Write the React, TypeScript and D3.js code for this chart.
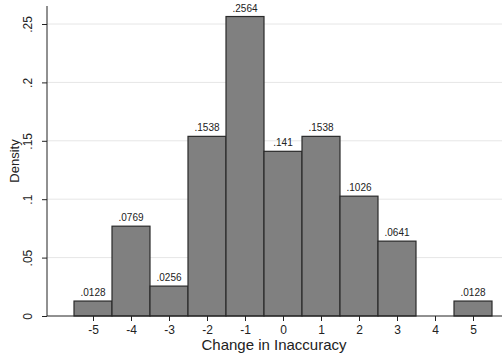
import React, { useEffect, useRef } from 'react';
import * as d3 from 'd3';

const bins = [-5, -4, -3, -2, -1, 0, 1, 2, 3, 4, 5];
const density = [0.0128, 0.0769, 0.0256, 0.1538, 0.2564, 0.141, 0.1538, 0.1026, 0.0641, 0, 0.0128];
const barLabels = ['.0128', '.0769', '.0256', '.1538', '.2564', '.141', '.1538', '.1026', '.0641', '', '.0128'];
const yTicks = [0, 0.05, 0.1, 0.15, 0.2, 0.25];
const yTickLabels = ['0', '.05', '.1', '.15', '.2', '.25'];

const W = 502;
const H = 356;
const font = '"Liberation Sans", Arial, sans-serif';

export default function App() {
  const ref = useRef<SVGSVGElement>(null);

  useEffect(() => {
    const svg = d3.select(ref.current);
    svg.selectAll('*').remove();

    const x = d3.scaleLinear().domain([-5.5, 5.5]).range([74, 492]);
    const y = d3.scaleLinear().domain([0, 0.25]).range([316, 24]);
    const axisX = 47;

    // gridlines
    svg.append('g')
      .selectAll('line')
      .data(yTicks.slice(1))
      .join('line')
      .attr('x1', axisX)
      .attr('x2', W)
      .attr('y1', d => y(d))
      .attr('y2', d => y(d))
      .attr('stroke', '#e6e6e6')
      .attr('stroke-width', 1);

    // bars
    const data = bins.map((b, i) => ({ b, v: density[i], label: barLabels[i] }));
    svg.append('g')
      .selectAll('rect')
      .data(data.filter(d => d.v > 0))
      .join('rect')
      .attr('x', d => x(d.b - 0.5))
      .attr('width', d => x(d.b + 0.5) - x(d.b - 0.5))
      .attr('y', d => y(d.v))
      .attr('height', d => y(0) - y(d.v))
      .attr('fill', '#808080')
      .attr('stroke', '#2a2a2a')
      .attr('stroke-width', 1.2);

    // bar labels
    svg.append('g')
      .selectAll('text')
      .data(data.filter(d => d.label))
      .join('text')
      .attr('x', d => x(d.b))
      .attr('y', d => y(d.v) - 5)
      .attr('text-anchor', 'middle')
      .attr('font-family', font)
      .attr('font-size', 10)
      .attr('fill', '#222')
      .text(d => d.label);

    // y axis
    const gy = svg.append('g').attr('transform', `translate(${axisX},0)`);
    gy.call(d3.axisLeft(y).tickValues(yTicks).tickSize(5).tickFormat((d, i) => yTickLabels[i]));
    gy.select('.domain').remove();
    gy.append('line').attr('x1', 0).attr('x2', 0).attr('y1', 6).attr('y2', y(0)).attr('stroke', '#222');
    gy.selectAll('.tick line').attr('stroke', '#222');
    gy.selectAll('.tick text')
      .attr('x', null)
      .attr('dy', null)
      .attr('transform', 'translate(-15,0) rotate(-90)')
      .attr('text-anchor', 'middle')
      .attr('font-family', font)
      .attr('font-size', 12)
      .attr('fill', '#222');

    // x axis
    const gx = svg.append('g').attr('transform', `translate(0,${y(0)})`);
    gx.call(d3.axisBottom(x).tickValues(bins).tickSize(5).tickFormat(d => String(d)));
    gx.select('.domain').remove();
    gx.append('line').attr('x1', axisX).attr('x2', W).attr('y1', 0).attr('y2', 0).attr('stroke', '#222');
    gx.selectAll('.tick line').attr('stroke', '#222');
    gx.selectAll('.tick text')
      .attr('y', 9)
      .attr('font-family', font)
      .attr('font-size', 12)
      .attr('fill', '#222');

    // titles
    svg.append('text')
      .attr('transform', 'translate(19,161) rotate(-90)')
      .attr('text-anchor', 'middle')
      .attr('font-family', font)
      .attr('font-size', 13)
      .attr('fill', '#222')
      .text('Density');

    svg.append('text')
      .attr('x', 274)
      .attr('y', 350)
      .attr('text-anchor', 'middle')
      .attr('font-family', font)
      .attr('font-size', 15)
      .attr('fill', '#222')
      .text('Change in Inaccuracy');
  }, []);

  return (
    <svg
      ref={ref}
      width={W}
      height={H}
      style={{ position: 'absolute', left: 0, top: 0, background: '#fff' }}
    />
  );
}
